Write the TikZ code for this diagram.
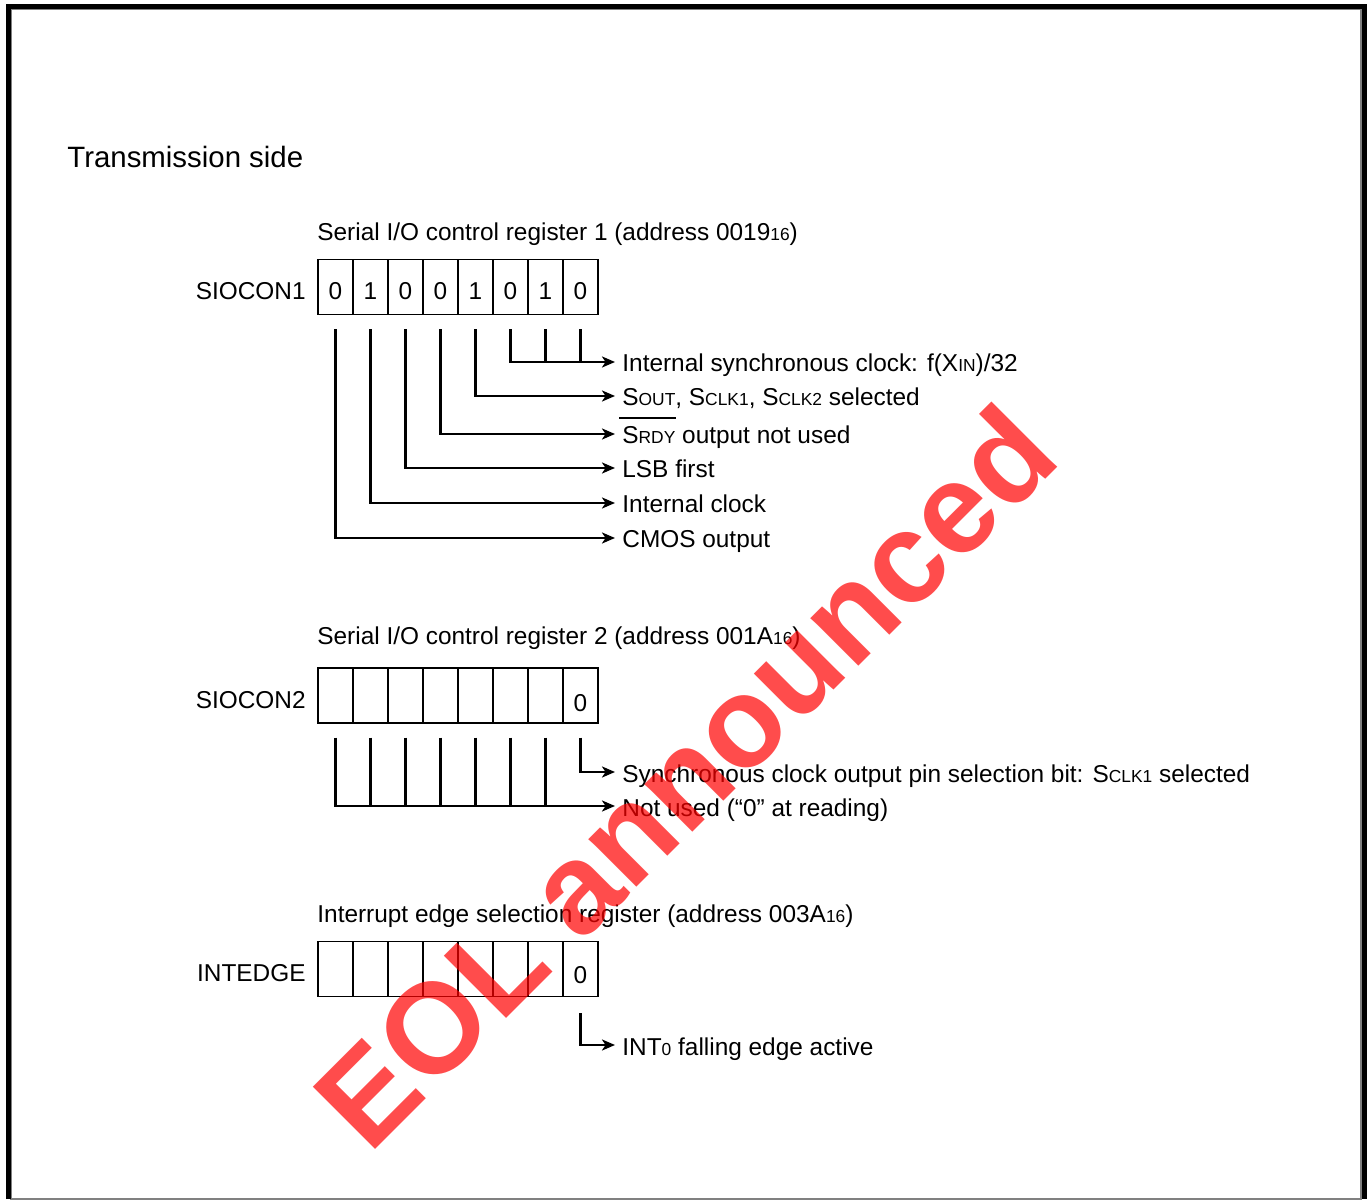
\documentclass[tikz,border=0pt]{standalone}
\usepackage{fontspec}
\setmainfont{Liberation Sans}
\usetikzlibrary{arrows.meta}
\newcommand{\sm}[1]{{\fontsize{8.7}{10}\selectfont #1}}
\newlength{\ovlw}
\newcommand{\ovl}[1]{\settowidth{\ovlw}{#1}\makebox[0pt][l]{\hspace{-1.5pt}\rule[12.5pt]{\dimexpr\ovlw+2pt\relax}{0.8pt}}#1}

\begin{document}
\begin{tikzpicture}[x=0.5pt, y=-0.5pt,
  cell/.style={draw, line width=0.7pt, minimum width=17.5pt, minimum height=27.5pt, inner sep=0pt},
  bit/.style={inner sep=0pt, font=\fontsize{12.2}{14}\selectfont},
  lbl/.style={anchor=west, inner xsep=3.5pt, inner ysep=0pt, text height=12pt, text depth=2pt, font=\fontsize{12.2}{14}\selectfont},
  head/.style={anchor=base west, inner sep=0pt, font=\fontsize{12.2}{14}\selectfont},
  reg/.style={anchor=base east, inner sep=0pt, font=\fontsize{12.2}{14}\selectfont},
  wire/.style={line width=1.2pt},
  arr/.style={wire, -{Stealth[length=6.5pt, width=5.5pt, inset=1.8pt]}}
]
\useasboundingbox (0,0) rectangle (1370,1202);

% frame
\draw[gray, line width=0.6pt] (11,9) rectangle (1361,1199);
\draw[line width=2.6pt] (8.5,1199) -- (8.5,6.5) -- (1364.5,6.5) -- (1364.5,1199);

\node[anchor=base west, inner sep=0pt, font=\fontsize{14.7}{17}\selectfont] (side) at (67,168) {Transmission side};

% SIOCON1
\node[head] (t1) at (317,241) {Serial I/O control register 1 (address 0019\sm{16})};
\node[reg] (r1) at (306,300) {SIOCON1};
\foreach \v [count=\i from 0] in {0,1,0,0,1,0,1,0} {
  \node[cell] (sa\i) at ({335.5+35*\i},287) {};
  \node[bit] (ba\i) at ([yshift=-2pt]sa\i.center) {\v};
}
\node[lbl] (l0) at (615,362) {Internal synchronous clock: f(X\sm{IN})/32};
\node[lbl] (l1) at (615,396) {S\sm{OUT}, S\sm{CLK1}, S\sm{CLK2} selected};
\node[lbl] (l2) at (615,434) {\ovl{S\sm{RDY}} output not used};
\node[lbl] (l3) at (615,468) {LSB first};
\node[lbl] (l4) at (615,503) {Internal clock};
\node[lbl] (l5) at (615,538) {CMOS output};

\draw[arr] ([yshift=-7pt]sa5.south) |- (l0.west);
\draw[wire] ([yshift=-7pt]sa6.south) -- (sa6.south |- l0.west);
\draw[wire] ([yshift=-7pt]sa7.south) -- (sa7.south |- l0.west);
\foreach \c/\l in {4/1,3/2,2/3,1/4,0/5}
  \draw[arr] ([yshift=-7pt]sa\c.south) |- (l\l.west);

% SIOCON2
\node[head] (t2) at (317,645) {Serial I/O control register 2 (address 001A\sm{16})};
\node[reg] (r2) at (306,709) {SIOCON2};
\foreach \i in {0,...,7}
  \node[cell] (sb\i) at ({335.5+35*\i},695.5) {};
\node[bit] (bb7) at ([yshift=-4pt]sb7.center) {0};
\node[lbl] (m0) at (615,772) {Synchronous clock output pin selection bit: S\sm{CLK1} selected};
\node[lbl] (m1) at (615,806) {Not used (“0” at reading)};

\draw[arr] ([yshift=-7pt]sb7.south) |- (m0.west);
\draw[arr] ([yshift=-7pt]sb0.south) |- (m1.west);
\foreach \i in {1,...,6}
  \draw[wire] ([yshift=-7pt]sb\i.south) -- (sb\i.south |- m1.west);

% INTEDGE
\node[head] (t3) at (317,922) {Interrupt edge selection register (address 003A\sm{16})};
\node[reg] (r3) at (306,981) {INTEDGE};
\foreach \i in {0,...,7}
  \node[cell] (sc\i) at ({335.5+35*\i},969) {};
\node[bit] (bc7) at ([yshift=-3pt]sc7.center) {0};
\node[lbl] (n0) at (615,1045) {INT\sm{0} falling edge active};

\draw[arr] ([yshift=-8pt]sc7.south) |- (n0.west);

% watermark
\node[rotate=45, inner sep=0pt, text=red, opacity=0.7, font=\fontsize{64}{70}\selectfont\bfseries] (eol) at (684,776) {EOL announced};
\end{tikzpicture}
\end{document}
